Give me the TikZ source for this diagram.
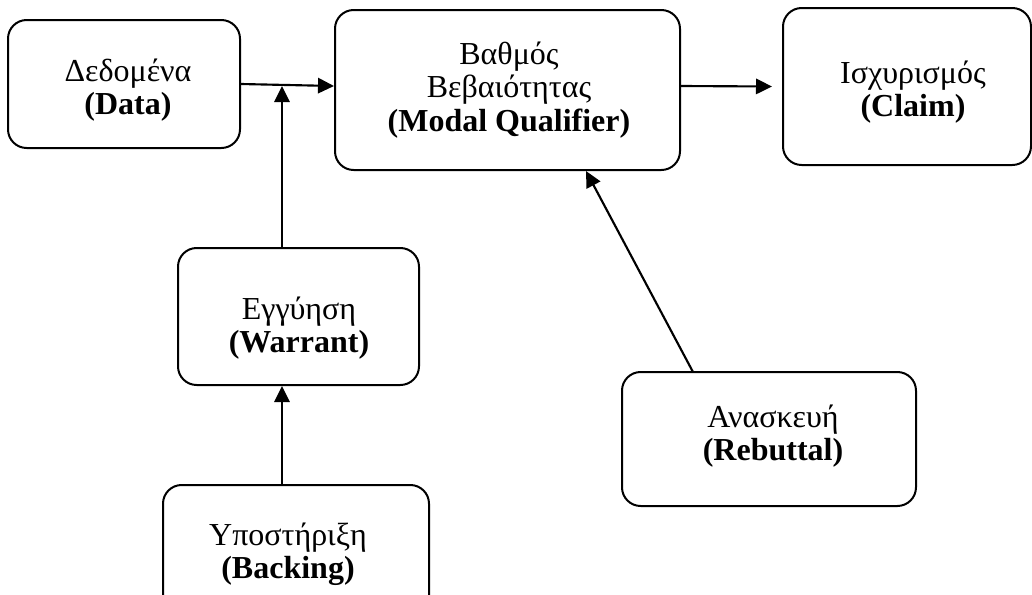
\documentclass[tikz,border=0pt]{standalone}
\usepackage{fontspec}
\setmainfont{Liberation Serif}
\usetikzlibrary{arrows.meta,calc}
\begin{document}
\begin{tikzpicture}[x=0.75pt,y=-0.75pt,
  box/.style={draw, line width=1.5pt, rounded corners=14pt, inner sep=0pt},
  lbl/.style={align=center, font=\fontsize{24}{25}\selectfont, inner sep=0pt},
  arr/.style={line width=1.6pt, -{Triangle[length=12pt,width=11.5pt]}}]
\clip (0,0) rectangle (1032,594);

% boxes of the argument model
\node[box, minimum width=174pt,    minimum height=96pt]    (data)     at (124,84)    {};
\node[box, minimum width=258.75pt, minimum height=120pt]   (modal)    at (507.5,90)  {};
\node[box, minimum width=186pt,    minimum height=117.75pt](claim)    at (907,86.5)  {};
\node[box, minimum width=180.75pt, minimum height=102.75pt](warrant)  at (298.5,316.5) {};
\node[box, minimum width=220.5pt,  minimum height=100.5pt] (rebuttal) at (769,439)   {};
\node[box, minimum width=199.5pt,  minimum height=102pt]   (backing)  at (296,553)   {};

% labels
\node[lbl] (data-t)     at (128,90)  {Δεδομένα\\\textbf{(Data)}};
\node[lbl] (modal-t)    at (509,90)  {Βαθμός\\Βεβαιότητας\\\textbf{(Modal Qualifier)}};
\node[lbl] (claim-t)    at (913,92)  {Ισχυρισμός\\\textbf{(Claim)}};
\node[lbl] (warrant-t)  at (299,328) {Εγγύηση\\\textbf{(Warrant)}};
\node[lbl] (rebuttal-t) at (773,436) {Ανασκευή\\\textbf{(Rebuttal)}};
\node[lbl] (backing-t)  at (288,554) {Υποστήριξη\\\textbf{(Backing)}};

% junction on the data line and attachment points
\coordinate (jn) at (282,86);
\coordinate (rb) at (693,372);
\coordinate (mq) at (586,171);

% connectors
\draw[arr] (data.east) -- ([yshift=3pt]modal.west);
\draw[arr] (jn |- warrant.north) -- (jn);
\draw[arr] ([yshift=3pt]modal.east) -- ([shift={(-7.5pt,0pt)}]claim.west);
\draw[arr] (rb) -- (mq);
\draw[arr] (backing.north -| jn) -- (warrant.south -| jn);
\end{tikzpicture}
\end{document}
